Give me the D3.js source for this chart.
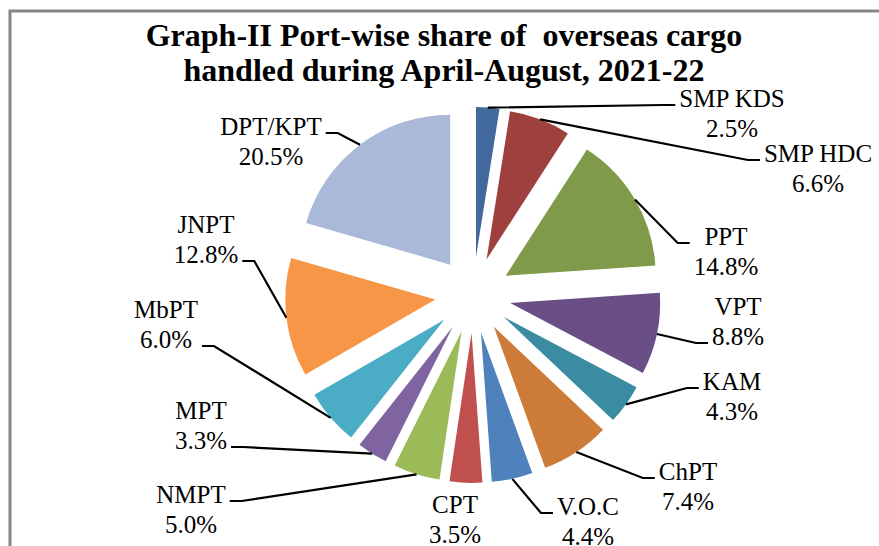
<!DOCTYPE html>
<html>
<head>
<meta charset="utf-8">
<script src="https://cdn.jsdelivr.net/npm/d3@7"></script>
<style>
  body { margin: 0; background: #fff; }
  #chart { width: 879px; height: 546px; overflow: hidden; }
  text { font-family: "Liberation Serif", "Times New Roman", serif; fill: #000; white-space: pre; }
</style>
</head>
<body>
<div id="chart"></div>
<script>

// data (clockwise from 12 o'clock)
var ports = ["SMP KDS", "SMP HDC", "PPT", "VPT", "KAM", "ChPT", "V.O.C", "CPT", "NMPT", "MPT", "MbPT", "JNPT", "DPT/KPT"];
var shares = [2.5, 6.6, 14.8, 8.8, 4.3, 7.4, 4.4, 3.5, 5.0, 3.3, 6.0, 12.8, 20.5];
var sliceColors = ["#41699c", "#9e413e", "#7f9a48", "#694f86", "#3b8ca2", "#cc7b38", "#4f81bd",
                   "#c0504d", "#9bbb59", "#8064a2", "#4bacc6", "#f79646", "#aab9d7"];
var titleLines = ["Graph-II Port-wise share of  overseas cargo", "handled during April-August, 2021-22"];

// label layout (hand placed in the original): text centre x, first baseline y,
// relative to pie centre, and which line the leader attaches to (-1 = no leader)
var labelDx = [259, 345, 253, 265, 259, 215, 115, -18, -282, -272, -307, -267, -202];
var labelDy = [-188, -133, -50, 20, 95, 185, 220, 218, 208, 124, 23, -62, -160];
var attachLine = [0, 0, 0, 1, 0, 0, 0, -1, 0, 1, 1, 1, 0];

var width = 879, height = 546;
var cx = 473, cy = 295, radius = 150, explode = 38;
var fontSize = 25, lineGap = 30;

var svg = d3.select("#chart").append("svg")
    .attr("width", width)
    .attr("height", height);

// chart frame (the picture is cropped, so it runs off right/bottom)
svg.append("rect")
    .attr("x", 10).attr("y", 11)
    .attr("width", 900).attr("height", 560)
    .attr("fill", "none")
    .attr("stroke", "#868686")
    .attr("stroke-width", 3);

svg.selectAll("text.title")
    .data(titleLines)
  .enter().append("text")
    .attr("class", "title")
    .attr("x", 444)
    .attr("y", function(d, i){ return 46 + i * 35; })
    .attr("text-anchor", "middle")
    .style("font-weight", "bold")
    .style("font-size", "32px")
    .text(function(d){ return d; });

var pie = d3.pie().sort(null).value(function(d){ return d; });
var arc = d3.arc().innerRadius(0).outerRadius(radius);
var arcs = pie(shares);

function mid(d){ return (d.startAngle + d.endAngle) / 2; }

var g = svg.append("g").attr("transform", "translate(" + cx + "," + cy + ")");

g.selectAll("path.slice")
    .data(arcs)
  .enter().append("path")
    .attr("class", "slice")
    .attr("d", arc)
    .attr("fill", function(d, i){ return sliceColors[i]; })
    .attr("transform", function(d){
      var a = mid(d);
      return "translate(" + (Math.sin(a) * explode) + "," + (-Math.cos(a) * explode) + ")";
    });

// labels
var labels = g.selectAll("g.label")
    .data(arcs)
  .enter().append("g")
    .attr("class", "label");

labels.each(function(d, i){
  var t = d3.select(this);
  var lines = [ports[i], d3.format(".1f")(shares[i]) + "%"];
  lines.forEach(function(s, k){
    t.append("text")
      .attr("x", labelDx[i])
      .attr("y", labelDy[i] + k * lineGap)
      .attr("text-anchor", "middle")
      .style("font-size", fontSize + "px")
      .text(s);
  });
});

// leader lines: outer arc midpoint -> elbow -> short horizontal stub
var line = d3.line();
labels.each(function(d, i){
  if (attachLine[i] < 0) return;
  var box = this.getBBox();
  var a = mid(d), r = radius + explode;
  var sx = Math.sin(a) * r, sy = -Math.cos(a) * r;
  var ay = labelDy[i] + attachLine[i] * lineGap - 2;
  var onRight = labelDx[i] > sx;
  var ex = onRight ? box.x - 4 : box.x + box.width + 4;
  var bx = onRight ? ex - 12 : ex + 12;
  g.insert("path", "g.label")
    .attr("d", line([[sx, sy], [bx, ay], [ex, ay]]))
    .attr("fill", "none")
    .attr("stroke", "#000")
    .attr("stroke-width", 2.2);
});

</script>
</body>
</html>
